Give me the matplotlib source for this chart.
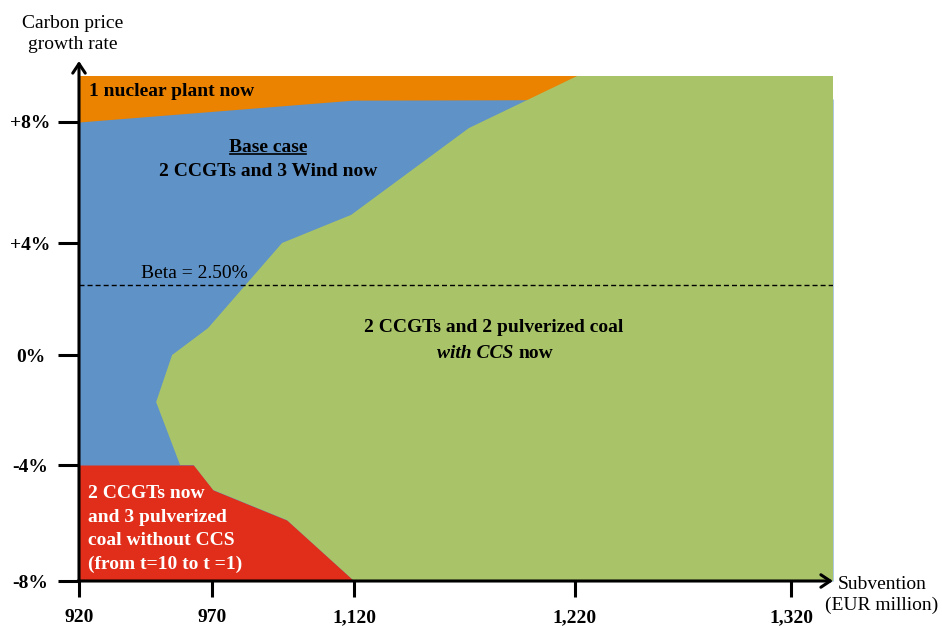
import numpy as np
import matplotlib
matplotlib.use("Agg")
import matplotlib.pyplot as plt
from matplotlib.lines import Line2D

plt.rcParams['font.family'] = ['Liberation Serif', 'DejaVu Serif']

# ---- axis ticks -------------------------------------------------------
x_ticks = [920, 970, 1120, 1220, 1320]
x_tick_labels = ["920", "970", "1,120", "1,220", "1,320"]
y_ticks = [-8, -4, 0, 4, 8]
y_tick_labels = ["-8%", "-4%", "0%", "+4%", "+8%"]
x_min, x_max = 920, 1339.5
y_min, y_max = -8.0, 9.6
beta = 2.5

# ---- region boundaries (subvention EUR million, growth rate %) --------
# lower edge of the "1 nuclear plant now" region
nuclear_edge_x = [920, 1119, 1339.5]
nuclear_edge_y = [8.0, 8.76, 8.8]

# left edge of the "2 CCGTs and 2 pulverized coal with CCS" region
ccs_edge_x = [1221, 1172, 1117, 1044, 968.5, 955, 949, 958, 963, 971, 1049, 1120]
ccs_edge_y = [9.6, 7.8, 4.93, 4.0, 0.96, 0.0, -1.71, -4.0, -4.0, -4.86, -5.9, -8.0]

# upper edge of the "pulverized coal without CCS" region
coal_edge_x = [920, 963, 971, 1049, 1120]
coal_edge_y = [-4.0, -4.0, -4.86, -5.9, -8.0]

# ---- hand-spaced axes: value -> offset along the axis (pixels) --------
x_scale_vals = [920, 970, 1120, 1220, 1320, 1339.5]
x_scale_pos = [0, 133, 275, 496, 712, 754]
y_scale_vals = [-8, -4, 0, 4, 8, 9.6]
y_scale_pos = [0, 116, 226, 338, 459, 505]


def piecewise(xp, fp):
    xp = np.asarray(xp, float)
    fp = np.asarray(fp, float)

    def f(v):
        v = np.asarray(v, float)
        out = np.interp(v, xp, fp)
        lo_slope = (fp[1] - fp[0]) / (xp[1] - xp[0])
        hi_slope = (fp[-1] - fp[-2]) / (xp[-1] - xp[-2])
        out = np.where(v < xp[0], fp[0] + (v - xp[0]) * lo_slope, out)
        out = np.where(v > xp[-1], fp[-1] + (v - xp[-1]) * hi_slope, out)
        return out
    return f


ORANGE = "#EB8200"
BLUE = "#5F92C6"
GREEN = "#A9C468"
RED = "#E12E1A"

W, H = 942, 626
fig = plt.figure(figsize=(W / 100, H / 100), dpi=100)
ax = fig.add_axes([79 / W, 45 / H, 754 / W, 505 / H])
ax.set_xscale('function', functions=(piecewise(x_scale_vals, x_scale_pos),
                                     piecewise(x_scale_pos, x_scale_vals)))
ax.set_yscale('function', functions=(piecewise(y_scale_vals, y_scale_pos),
                                     piecewise(y_scale_pos, y_scale_vals)))
ax.set_xlim(x_min, x_max)
ax.set_ylim(y_min, y_max)

# regions
ax.fill_between([x_min, x_max], y_min, y_max, color=ORANGE, lw=0)
ax.fill_between(nuclear_edge_x, y_min, nuclear_edge_y, color=BLUE, lw=0)
ax.fill(ccs_edge_x + [x_max, x_max], ccs_edge_y + [y_min, y_max], color=GREEN, lw=0)
ax.fill_between(coal_edge_x, y_min, coal_edge_y, color=RED, lw=0)

# beta reference line
ax.axhline(beta, color='black', lw=1.0, dashes=(3.6, 2.2))

# axes styling
for s in ax.spines.values():
    s.set_visible(False)
ax.set_xticks(x_ticks)
ax.set_xticklabels(x_tick_labels)
ax.set_yticks(y_ticks)
ax.set_yticklabels(y_tick_labels)
ax.tick_params(axis='x', length=11.5, width=2.2, direction='out', pad=9,
               labelsize=14)
ax.tick_params(axis='y', length=15, width=2.2, direction='out', pad=20,
               labelsize=14)
for lab in ax.get_xticklabels() + ax.get_yticklabels():
    lab.set_fontweight('bold')
for lab in ax.get_yticklabels():
    lab.set_horizontalalignment('center')
ax.tick_params(axis='both', which='minor', length=0)

arrow = dict(arrowstyle='->,head_length=0.45,head_width=0.3', lw=2.2,
             color='black', shrinkA=0, shrinkB=0, mutation_scale=15)
ax.annotate('', xy=(0, 1 + 15 / 505), xytext=(0, 0), xycoords='axes fraction',
            textcoords='axes fraction', arrowprops=arrow, annotation_clip=False)
ax.annotate('', xy=(1.0, 0), xytext=(-0.0015, 0), xycoords='axes fraction',
            textcoords='axes fraction', arrowprops=arrow, annotation_clip=False)


def px(x, y):
    return x / W, 1 - y / H


# axis titles
fig.text(*px(73, 34), "Carbon price\ngrowth rate", ha='center', va='center',
         fontsize=14, linespacing=1.32)
fig.text(*px(882, 595), "Subvention\n(EUR million)", ha='center', va='center',
         fontsize=14, linespacing=1.32)

# region labels
fig.text(*px(89, 92), "1 nuclear plant now", ha='left', va='center',
         fontsize=14, fontweight='bold')
base = fig.text(*px(268, 148), "Base case", ha='center', va='center',
                fontsize=14, fontweight='bold')
fig.text(*px(268, 171), "2 CCGTs and 3 Wind now", ha='center', va='center',
         fontsize=14, fontweight='bold')
fig.text(*px(194, 274), "Beta = 2.50%", ha='center', va='center', fontsize=14)
fig.text(*px(494, 328), "2 CCGTs and 2 pulverized coal", ha='center',
         va='center', fontsize=14, fontweight='bold')
t_with = fig.text(0, 0, "with CCS", ha='left', va='center', fontsize=14,
                  fontweight='bold', style='italic')
t_now = fig.text(0, 0, "now", ha='left', va='center', fontsize=14,
                 fontweight='bold')
fig.text(*px(88, 529), "2 CCGTs now\nand 3 pulverized\ncoal without CCS\n(from t=10 to t =1)",
         ha='left', va='center', fontsize=14, fontweight='bold', color='white',
         linespacing=1.5)

# place the mixed-style line and underline the heading
fig.canvas.draw()
r = fig.canvas.get_renderer()
w1 = t_with.get_window_extent(r).width
w2 = t_now.get_window_extent(r).width
gap = 5
cx, cy = 495, 353
x0 = cx - (w1 + gap + w2) / 2
t_with.set_position(px(x0, cy))
t_now.set_position(px(x0 + w1 + gap, cy))

bb = base.get_window_extent(r)
uy = bb.y0 + 2.5
fig.add_artist(Line2D([bb.x0 + 1, bb.x1 - 1], [uy, uy], color='black', lw=1.2,
                      transform=None))

fig.savefig("out.png", dpi=100)
